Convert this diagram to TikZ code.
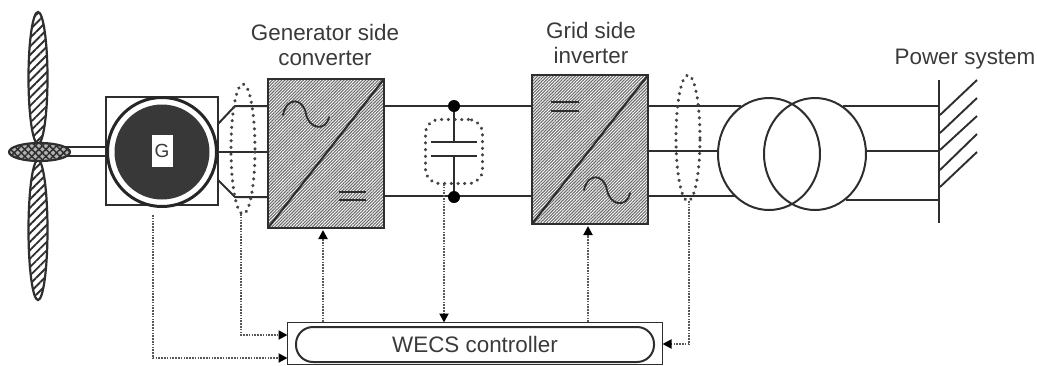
\documentclass[tikz,border=0pt]{standalone}
\usepackage{fontspec}
\setmainfont{Liberation Sans}
\usetikzlibrary{arrows.meta,patterns.meta,shapes.geometric,calc}
\definecolor{ink}{HTML}{2E2E2E}
\definecolor{txt}{HTML}{3A3A3A}
\tikzset{
  x=1pt,y=-1pt,
  every node/.style={inner sep=0pt,outer sep=0pt},
  wire/.style={draw=ink,line width=2pt},
  thin wire/.style={draw=ink,line width=1.6pt},
  sigline/.style={draw=ink!80,line width=1.9pt,dash pattern=on 1.6pt off 1.2pt},
  sigarrow/.style={sigline,-{Triangle[length=9pt,width=9pt,color=black]}},
  ringdot/.style={draw=ink!90,line width=3.4pt,dash pattern=on 0.1pt off 6.6pt,line cap=round,fill=none},
  convbox/.style={rectangle,draw=ink,line width=2.4pt,
    pattern={Lines[angle=45,distance=2.2pt,line width=1.1pt]},pattern color=black!58,
    minimum width=116pt,minimum height=149pt,anchor=north west},
  blade/.style={ellipse,draw=ink,line width=2.2pt,
    pattern={Lines[angle=45,distance=6pt,line width=1.9pt]},pattern color=ink},
  label/.style={text=txt,font=\fontsize{22.4}{25}\selectfont,align=center},
  dotjoin/.style={circle,fill=black,minimum size=12pt},
}
\begin{document}
\begin{tikzpicture}
\useasboundingbox (0,0) rectangle (1037,365);
% turbine
\node[blade,minimum width=19pt,minimum height=132pt] (bladeT) at (38,78) {};
\node[blade,minimum width=19pt,minimum height=140pt] (bladeB) at (38,230) {};
\coordinate (shaftA) at (66,147);
\coordinate (shaftB) at (66,156);
\draw[thin wire] (shaftA) -- (106,147);
\draw[thin wire] (shaftB) -- (106,156);
\node[ellipse,draw=ink,line width=2.2pt,minimum width=61pt,minimum height=18pt,fill=gray!60] (hub0) at (39.5,152) {};
\node[ellipse,minimum width=59pt,minimum height=16pt,
  pattern={Lines[angle=45,distance=5pt,line width=1.5pt]},pattern color=ink] (hub1) at (39.5,152) {};
\node[ellipse,minimum width=59pt,minimum height=16pt,
  pattern={Lines[angle=-45,distance=5pt,line width=1.5pt]},pattern color=ink] (hub) at (39.5,152) {};
% generator
\node[rectangle,draw=ink,line width=2pt,minimum width=112pt,minimum height=108pt] (genbox) at (162,151) {};
\node[circle,draw=black!85,line width=3pt,fill=white,minimum size=109pt] (genouter) at (162,152) {};
\node[circle,fill=black!78,minimum size=95pt] (geninner) at (162,152) {};
\node[rectangle,fill=white,minimum width=21pt,minimum height=32pt,text=txt,font=\fontsize{19}{22}\selectfont] (G) at (162,151) {G};
% converters
\node[convbox] (conv1) at (268,79) {};
\node[convbox] (conv2) at (532,75) {};
\draw[ink,line width=2.1pt] (conv1.south west) -- (conv1.north east);
\draw[ink,line width=2.1pt] (conv2.south west) -- (conv2.north east);
\draw[ink,line width=1.8pt,line cap=round] (283,115) .. controls (287,96) and (303,98) .. (306,114) .. controls (309,129) and (326,132) .. (329,117);
\draw[ink,line width=1.8pt,line cap=round] (584,190) .. controls (588,172) and (604,174) .. (607,190) .. controls (610,206) and (627,208) .. (630,193);
\draw[ink,line width=1.8pt] (339,192) -- (366,192) (339,200) -- (366,200);
\draw[ink,line width=1.8pt] (551,102) -- (579,102) (551,111) -- (579,111);
% generator to converter wiring
\coordinate (gA) at (218,124); \coordinate (gAb) at (235,106); \coordinate (cA) at (268,106);
\coordinate (gB) at (218,152); \coordinate (cB) at (268,152);
\coordinate (gC) at (218,180); \coordinate (gCb) at (235,197); \coordinate (cC) at (268,197);
\draw[wire] (gA) -- (gAb) -- (cA);
\draw[wire] (gB) -- (cB);
\draw[wire] (gC) -- (gCb) -- (cC);
% dc link
\coordinate (dcTl) at (384,106); \coordinate (dcTr) at (532,106);
\coordinate (dcBl) at (384,196); \coordinate (dcBr) at (532,196);
\draw[wire] (dcTl) -- (dcTr);
\draw[wire] (dcBl) -- (dcBr);
\node[dotjoin] (dotT) at (454,106) {};
\node[dotjoin] (dotB) at (454,197) {};
\coordinate (capT) at (454,142); \coordinate (capB) at (454,156);
\draw[wire] (dotT) -- (capT);
\draw[wire] (capB) -- (dotB);
\draw[ink,line width=2pt] (431,142) -- (477,142);
\draw[ink,line width=2pt] (431,156) -- (477,156);
% transformer
\coordinate (inA) at (648,106); \coordinate (inB) at (648,151); \coordinate (inC) at (648,196);
\coordinate (tA) at (741,106); \coordinate (tB) at (718,151); \coordinate (tC) at (735,196);
\draw[wire] (inA) -- (tA);
\draw[wire] (inB) -- (tB);
\draw[wire] (inC) -- (tC);
\node[ellipse,draw=ink,line width=2pt,minimum width=102pt,minimum height=112pt] (trL) at (769,154) {};
\node[ellipse,draw=ink,line width=2pt,minimum width=102pt,minimum height=112pt] (trR) at (815,154) {};
% bus
\coordinate (busT) at (939,80); \coordinate (busB) at (939,223);
\draw[ink,line width=2.1pt] (busT) -- (busB);
\coordinate (oA) at (843,106); \coordinate (oB) at (866,151); \coordinate (oC) at (846,200);
\draw[wire] (oA) -- (939,106);
\draw[wire] (oB) -- (939,151);
\draw[wire] (oC) -- (939,200);
\foreach \ya/\yb in {115/80,133/98,150/116,170/134,187/152}
  \draw[ink,line width=1.9pt] (940,\ya) -- (977,\yb);
% measurement rings
\node[ellipse,ringdot,minimum width=24pt,minimum height=130pt] (ringG) at (243,149) {};
\node[ellipse,ringdot,minimum width=24pt,minimum height=126pt] (ringI) at (688,138) {};
\node[rectangle,ringdot,rounded corners=14pt,minimum width=57pt,minimum height=64pt] (ringC) at (454,151.5) {};
% controller
\node[rectangle,draw=ink,line width=1.8pt,minimum width=375pt,minimum height=42pt,anchor=north west] (ctrlbox) at (287.5,322.5) {};
\node[rectangle,draw=ink,line width=2pt,rounded corners=17pt,minimum width=358pt,minimum height=35pt,anchor=north west,text=txt,font=\fontsize{22.4}{25}\selectfont] (ctrl) at (296,327) {WECS controller};
% signals
\coordinate (genS) at (153,215);
\coordinate (genC) at (153,358);
\coordinate (ringGC) at (241,335);
\draw[sigarrow] (genS) -- (genC) -- (genC -| ctrlbox.west);
\draw[sigarrow] (ringG.south -| ringGC) -- (ringGC) -- (ringGC -| ctrlbox.west);
\coordinate (c1s) at (323,322); \coordinate (c2s) at (588,322);
\draw[sigarrow] (c1s) -- ($(conv1.south -| c1s)+(0,2)$);
\draw[sigarrow] (c2s) -- ($(conv2.south -| c2s)+(0,2)$);
\coordinate (capS) at (444,184);
\draw[sigarrow] (capS) -- (capS |- ctrlbox.north);
\coordinate (ringIC) at (689,344);
\draw[sigarrow] (ringI.south -| ringIC) -- (ringIC) -- (ringIC -| ctrlbox.east);
% labels
\node[label] (lab1) at (325,45) {Generator side\\converter};
\node[label] (lab2) at (591,43) {Grid side\\inverter};
\node[label] (lab3) at (965,59) {Power system};
\end{tikzpicture}
\end{document}
